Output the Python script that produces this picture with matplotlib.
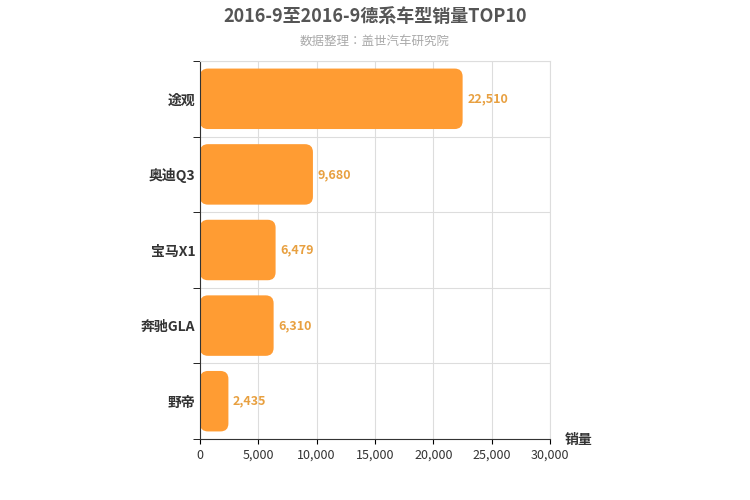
import matplotlib
matplotlib.use("Agg")
import matplotlib.pyplot as plt
from matplotlib.patches import FancyBboxPatch
from matplotlib import font_manager as fm
import glob

for f in glob.glob("/usr/share/fonts/**/*CJK*", recursive=True):
    try:
        fm.fontManager.addfont(f)
    except Exception:
        pass
names = sorted({f.name for f in fm.fontManager.ttflist if "CJK" in f.name})
fam = [n for n in names if "SC" in n] or names
plt.rcParams['font.family'] = fam[:1] + ['DejaVu Sans']

categories = ["途观", "奥迪Q3", "宝马X1", "奔驰GLA", "野帝"]
values = [22510, 9680, 6479, 6310, 2435]
xticks = [0, 5000, 10000, 15000, 20000, 25000, 30000]

fig = plt.figure(figsize=(7.5, 5), dpi=100)
ax = fig.add_axes([200/750, 61/500, 350/750, 378/500])
ax.set_xlim(0, 30000)
n = len(categories)
ax.set_ylim(n - 0.5, -0.5)
color = "#ff9c33"
rx = 8 * 30000 / 350
ry = 8 * 5 / 378
for i, v in enumerate(values):
    p = FancyBboxPatch((0, i - 0.4), v, 0.8,
                       boxstyle=f"round,pad=0,rounding_size={rx}",
                       mutation_aspect=ry / rx, fc=color, ec="none")
    ax.add_patch(p)
    ax.text(v + 400, i, f"{v:,}", va="center", ha="left", color="#e8a040",
            fontsize=9, fontweight="bold")
ax.set_yticks(range(n))
ax.set_yticklabels(categories, fontsize=10, fontweight="bold", color="#333")
ax.set_xticks(xticks)
ax.set_xticklabels([f"{t:,}" for t in xticks], fontsize=9, color="#333")
ax.set_yticks([i + 0.5 for i in range(-1, n)], minor=True)
ax.grid(True, axis="x", color="#ddd")
ax.grid(True, axis="y", which="minor", color="#ddd")
ax.tick_params(axis="y", which="major", length=0)
ax.tick_params(axis="y", which="minor", length=5)
for s in ["top", "right"]:
    ax.spines[s].set_color("#ddd")
for s in ["left", "bottom"]:
    ax.spines[s].set_color("#333")
ax.set_axisbelow(True)
fig.text(0.5, 0.968, "2016-9至2016-9德系车型销量TOP10", ha="center", va="center",
         fontsize=13, fontweight="bold", color="#555")
fig.text(0.5, 0.918, "数据整理：盖世汽车研究院", ha="center", va="center",
         fontsize=9, color="#aaa")
fig.text(565/750, 1 - 440/500, "销量", fontsize=10, fontweight="bold", color="#333", va="center")
fig.savefig("out.png")
